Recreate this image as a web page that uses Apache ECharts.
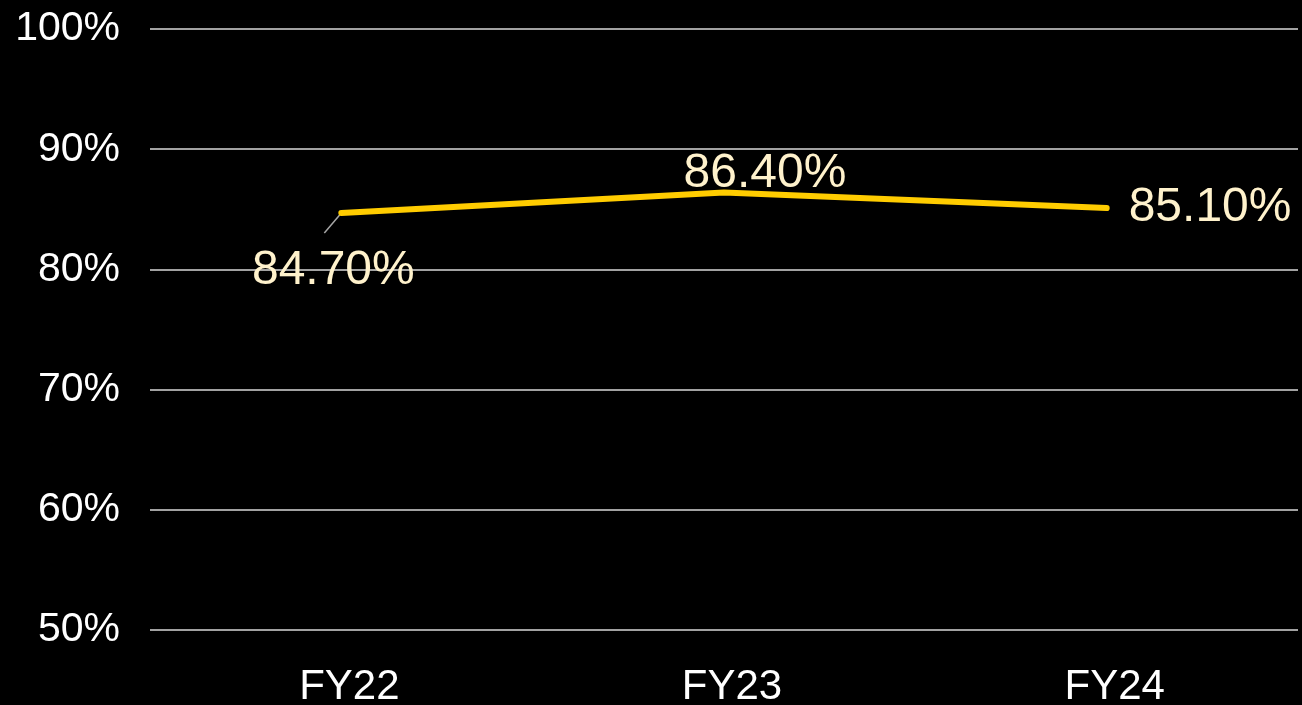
<!DOCTYPE html>
<html>
<head>
<meta charset="utf-8">
<script src="https://cdn.jsdelivr.net/npm/echarts@6/dist/echarts.min.js"></script>
<style>
  html, body { margin: 0; padding: 0; background: #000; }
  #chart { width: 1302px; height: 705px; }
</style>
</head>
<body>
<div id="chart"></div>
<script>
// data
const categories = ["FY22", "FY23", "FY24"];
const values = [84.7, 86.4, 85.1];
const valueLabels = ["84.70%", "86.40%", "85.10%"];

// per-point label placement
const labelMoves = [
  { dx: -8, dy: 85 },
  { dx: 41, dy: 8 },
  { dx: 0, dy: 0 }
];

const chart = echarts.init(document.getElementById("chart"));

chart.setOption({
  backgroundColor: "#000",
  animation: false,
  grid: {
    left: 150,
    right: 4,
    top: 29,
    bottom: 75,
    outerBoundsMode: "none"
  },
  xAxis: {
    type: "category",
    data: categories,
    boundaryGap: true,
    axisLine: { show: false },
    axisTick: { show: false },
    axisLabel: {
      color: "#fff",
      fontSize: 42,
      fontFamily: "Liberation Sans",
      margin: 36,
      padding: [0, 0, 0, 16]
    }
  },
  yAxis: {
    type: "value",
    min: 50,
    max: 100,
    interval: 10,
    axisLine: { show: false },
    axisTick: { show: false },
    axisLabel: {
      color: "#fff",
      fontSize: 41,
      fontFamily: "Liberation Sans",
      margin: 30,
      formatter: "{value}%"
    },
    splitLine: {
      lineStyle: { color: "#d9d9d9", width: 1.5 }
    }
  },
  series: [
    {
      type: "line",
      data: values.map((v, i) => ({
        value: v,
        label: {
          position: i === 2 ? "right" : "top",
          distance: i === 2 ? 22 : 3
        }
      })),
      showSymbol: true,
      symbol: "circle",
      symbolSize: 0,
      lineStyle: { color: "#ffcc00", width: 6, cap: "round" },
      itemStyle: { color: "#ffcc00" },
      label: {
        show: true,
        color: "#fff2cc",
        fontSize: 48,
        fontFamily: "Liberation Sans",
        formatter: p => valueLabels[p.dataIndex]
      },
      labelLayout: p => labelMoves[p.dataIndex]
    }
  ]
});

// short leader line from the FY22 point toward its label
const p0 = chart.convertToPixel({ seriesIndex: 0 }, [0, values[0]]);
chart.setOption({
  graphic: [
    {
      type: "line",
      z: 1,
      shape: { x1: p0[0], y1: p0[1], x2: p0[0] - 17, y2: p0[1] + 20 },
      style: { stroke: "#a6a6a6", lineWidth: 1.5 }
    }
  ]
});
</script>
</body>
</html>
